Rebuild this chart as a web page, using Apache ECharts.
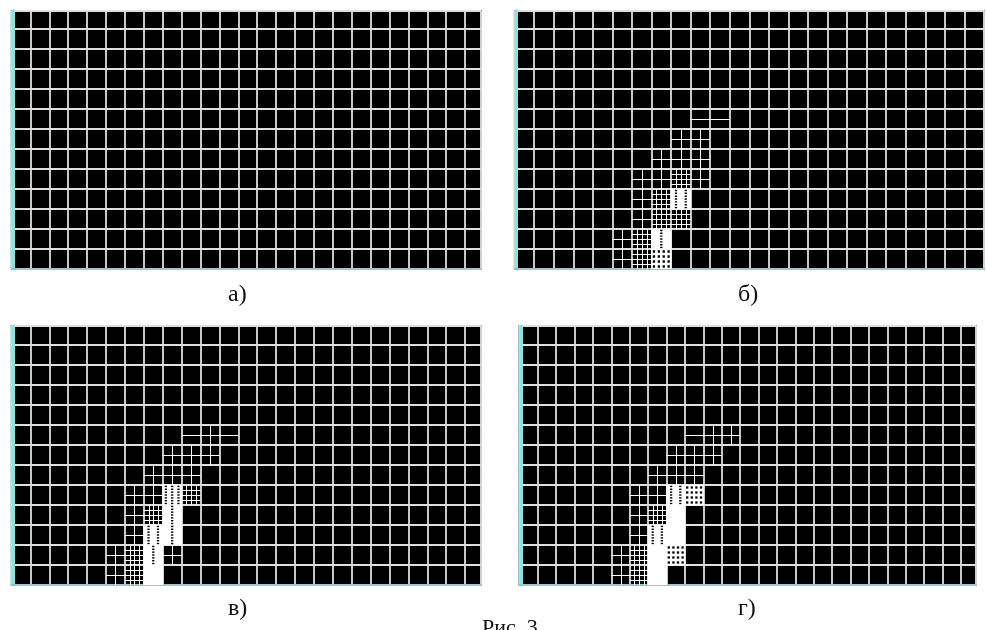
<!DOCTYPE html>
<html><head><meta charset="utf-8">
<script src="https://cdn.jsdelivr.net/npm/echarts@6/dist/echarts.min.js"></script>
<style>html,body{margin:0;padding:0;background:#fff}#c{width:986px;height:630px}</style>
</head><body><div id="c"></div>
<script>
// ---- texts ----
const panelLabels = ['а)', 'б)', 'в)', 'г)'];
const figureCaption = 'Рис. 3';

// ---- base mesh extent per panel (columns, rows in cell units) ----
const meshColsA = 24.84, meshRowsA = 12.92;
const meshColsB = 24.0,  meshRowsB = 12.92;
const meshColsC = 24.84, meshRowsC = 12.95;
const meshColsD = 24.82, meshRowsD = 12.95;

// ---- refined cells: [col, row, nx, ny] (subdivision lines) ----
const refineA = [];
const refineB = [
  [9,7,1,2],[10,7,1,2],
  [8,6,2,2],[9,6,2,2],
  [7,5,2,2],[8,5,2,2],[9,5,2,2],
  [6,4,2,2],[7,4,2,2],[8,4,4,4],[9,4,2,2],
  [6,3,2,2],[7,3,4,4],
  [6,2,2,2],[7,2,4,4],[8,2,4,4],
  [5,1,2,2],[6,1,4,4],
  [5,0,2,2],[6,0,4,4]
];
const refineC = [
  [9,7,1,2],[10,7,2,2],[11,7,1,2],
  [8,6,2,2],[9,6,2,2],[10,6,2,2],
  [7,5,2,2],[8,5,2,2],[9,5,2,2],
  [6,4,2,2],[7,4,2,2],[9,4,4,4],
  [6,3,2,2],[7,3,4,4],
  [6,2,2,2],
  [5,1,2,2],[6,1,4,4],[8,1,2,2],
  [5,0,2,2],[6,0,4,4]
];
const refineD = [
  [9,7,1,2],[10,7,2,2],[11,7,2,2],
  [8,6,2,2],[9,6,2,2],[10,6,2,2],
  [7,5,2,2],[8,5,2,2],[9,5,2,2],
  [6,4,2,2],[7,4,2,2],
  [6,3,2,2],[7,3,4,4],
  [6,2,2,2],
  [5,1,2,2],[6,1,4,4],
  [5,0,2,2],[6,0,4,4]
];
// ---- very fine (nearly white) cells: [col, row, holesX, holesY] ----
const fineA = [];
const fineB = [[8,3,2,7],[7,1,1,7],[7,0,4,4]];
const fineC = [[8,4,3,7],[8,3,1,7],[8,2,1,7],[7,2,2,7],[7,1,1,7],[7,0,0,0]];
const fineD = [[8,4,2,7],[9,4,4,4],[8,3,0,0],[7,2,2,7],[8,2,0,0],[7,1,0,0],[8,1,4,4],[7,0,0,0]];

// ---- layout ----
const panels = [
  {left: 11.5, top: 10.7, width: 469.5, height: 258.3, cols: meshColsA, rows: meshRowsA, refine: refineA, fine: fineA, label:[228,283]},
  {left: 514.6, top: 10.7, width: 469.4, height: 258.3, cols: meshColsB, rows: meshRowsB, refine: refineB, fine: fineB, label:[738,283]},
  {left: 11.5, top: 326, width: 469.5, height: 259, cols: meshColsC, rows: meshRowsC, refine: refineC, fine: fineC, label:[228,597]},
  {left: 519.3, top: 326, width: 456.7, height: 259, cols: meshColsD, rows: meshRowsD, refine: refineD, fine: fineD, label:[738,597]}
];

function renderRefine(params, api) {
  const c = api.value(0), r = api.value(1), nx = api.value(2), ny = api.value(3);
  const p0 = api.coord([c, r]), p1 = api.coord([c + 1, r + 1]);
  const ch = [];
  const st = {stroke: '#ffffff', lineWidth: 1};
  for (let i = 1; i < nx; i++) {
    const x = Math.round(p0[0] + (p1[0] - p0[0]) * i / nx) + 0.5;
    ch.push({type: 'line', shape: {x1: x, y1: p0[1], x2: x, y2: p1[1]}, style: st});
  }
  for (let j = 1; j < ny; j++) {
    const y = Math.round(p0[1] + (p1[1] - p0[1]) * j / ny) + 0.5;
    ch.push({type: 'line', shape: {x1: p0[0], y1: y, x2: p1[0], y2: y}, style: st});
  }
  return {type: 'group', children: ch};
}
function renderFine(params, api) {
  const c = api.value(0), r = api.value(1), hx = api.value(2), hy = api.value(3);
  const p0 = api.coord([c, r]), p1 = api.coord([c + 1, r + 1]);
  const x0 = Math.min(p0[0], p1[0]), y0 = Math.min(p0[1], p1[1]);
  const w = Math.abs(p1[0] - p0[0]), h = Math.abs(p1[1] - p0[1]);
  const ch = [{type: 'rect', shape: {x: x0 - 0.5, y: y0 - 0.5, width: w + 1, height: h + 1}, style: {fill: '#ffffff'}}];
  if (hx > 0 && hy > 0) {
    const sw = w / hx, sh = h / hy;
    const hw = Math.min(2.3, sw * 0.5), hh = Math.min(2.3, sh * 0.5);
    for (let i = 0; i < hx; i++) for (let j = 0; j < hy; j++) {
      ch.push({type: 'rect', shape: {x: x0 + sw * (i + 0.5) - hw / 2, y: y0 + sh * (j + 0.5) - hh / 2, width: hw, height: hh}, style: {fill: '#000'}});
    }
  }
  return {type: 'group', children: ch};
}

const grid = [], xAxis = [], yAxis = [], series = [], title = [];
panels.forEach((p, k) => {
  grid.push({left: p.left, top: p.top, width: p.width, height: p.height, show: true,
    backgroundColor: '#000', borderColor: '#5a5a5a', borderWidth: 1.5, containLabel: false});
  xAxis.push({type: 'value', gridIndex: k, min: 0, max: p.cols, interval: 1,
    axisLabel: {show: false}, axisTick: {show: false},
    axisLine: {show: true, lineStyle: {color: '#8fbcbc', width: 1.5}},
    splitLine: {show: true, lineStyle: {color: '#dedede', width: 1.8}}});
  yAxis.push({type: 'value', gridIndex: k, min: 0, max: p.rows, interval: 1, offset: -1.5,
    axisLabel: {show: false}, axisTick: {show: false},
    axisLine: {show: true, lineStyle: {color: '#80e6ea', width: 3}},
    splitLine: {show: true, lineStyle: {color: '#dedede', width: 1.8}}});
  series.push({type: 'custom', xAxisIndex: k, yAxisIndex: k, clip: true, renderItem: renderRefine, data: p.refine, z: 3});
  series.push({type: 'custom', xAxisIndex: k, yAxisIndex: k, clip: true, renderItem: renderFine, data: p.fine, z: 4});
  title.push({text: panelLabels[k], left: p.label[0], top: p.label[1], padding: 0,
    textStyle: {fontFamily: 'Liberation Serif', fontSize: 24, fontWeight: 'normal', color: '#111'}});
});
title.push({text: figureCaption, left: 482, top: 617, padding: 0,
  textStyle: {fontFamily: 'Liberation Serif', fontSize: 22, fontWeight: 'normal', color: '#111'}});

const chart = echarts.init(document.getElementById('c'), null, {renderer: 'canvas'});
chart.setOption({animation: false, backgroundColor: '#fff', title, grid, xAxis, yAxis, series});
</script></body></html>
